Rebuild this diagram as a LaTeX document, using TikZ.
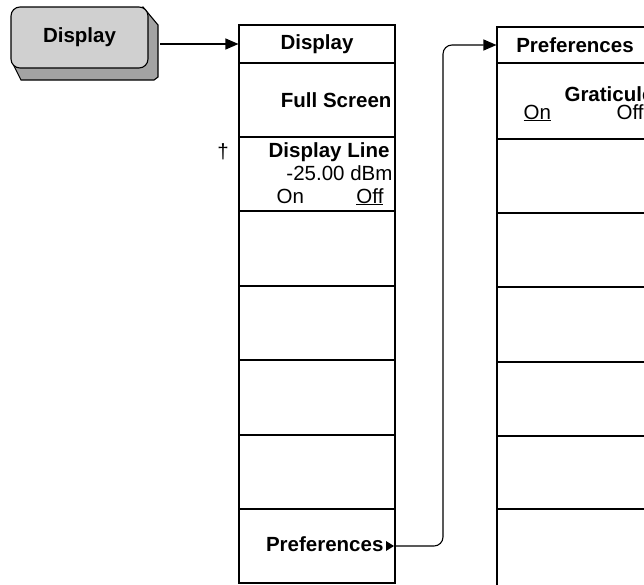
\documentclass[tikz,border=0pt]{standalone}
\usepackage{fontspec}
\setmainfont{Liberation Sans}
\usetikzlibrary{arrows.meta}
\definecolor{keyface}{RGB}{208,208,208}
\definecolor{keyshade}{RGB}{163,163,163}

\begin{document}
\begin{tikzpicture}[x=1pt, y=-1pt, >={Triangle[length=13pt,width=11pt]},
  line width=1.1pt,
  every node/.style={inner sep=0pt, font=\fontsize{20.5}{22}\selectfont},
  row/.style={draw, minimum width=156pt},
  bold/.style={font=\fontsize{20.5}{22}\selectfont\bfseries}]
  \useasboundingbox (0,0) rectangle (644,584);
  \clip (0,0) rectangle (644,584);
  % front panel key with its shadow
  \filldraw[fill=keyshade] (143,7) -- (158,25) -- (158,77) -- (154,80) -- (21,80) -- (14,66) -- cycle;
  \node[draw, fill=keyface, rounded corners=9pt, minimum width=137pt,
    minimum height=61pt, bold] (dkey) at (79.5,37.5) {Display};
  \coordinate (keyout) at (160,44);
  % Display menu
  \foreach \name/\top/\bot in {dh/25/63, d1/63/137, d2/137/211, d3/211/286,
    d4/286/360, d5/360/435, d6/435/509, d7/509/583}
    \node[row, minimum height=\bot-\top] (\name) at (317,{(\top+\bot)/2}) {};
  \node[bold] at (dh) {Display};
  \node[bold, anchor=base east] at (392,107) {Full Screen};
  \node[anchor=base] at (223,158) {\dag};
  \node[bold, anchor=base east] at (390,157) {Display Line};
  \node[anchor=base east] at (393,180) {-25.00 dBm};
  \node[anchor=base west] at (276,203) {On};
  \node[anchor=base east] at (384,203) {\underline{Off}};
  \node[bold, anchor=base east] (preftext) at (384,551) {Preferences};
  \fill (386,541) -- (394,546) -- (386,551) -- cycle;
  \coordinate (prefout) at (394,546);
  % Preferences menu
  \foreach \name/\top/\bot in {ph/27/63, p1/63/139, p2/139/213, p3/213/287,
    p4/287/362, p5/362/436, p6/436/509, p7/509/590}
    \node[row, minimum height=\bot-\top] (\name) at (575,{(\top+\bot)/2}) {};
  \node[bold] at (ph) {Preferences};
  \node[bold, anchor=base west] at (564,101) {Graticule};
  \node[anchor=base west] at (523,119) {\underline{On}};
  \node[anchor=base west] at (616,119) {Off};
  % connectors
  \draw[->] (keyout) -- (dh.west);
  \draw[->, rounded corners=9pt] (prefout) -- (443,546) -- (443,45) -- (ph.west);
\end{tikzpicture}
\end{document}
